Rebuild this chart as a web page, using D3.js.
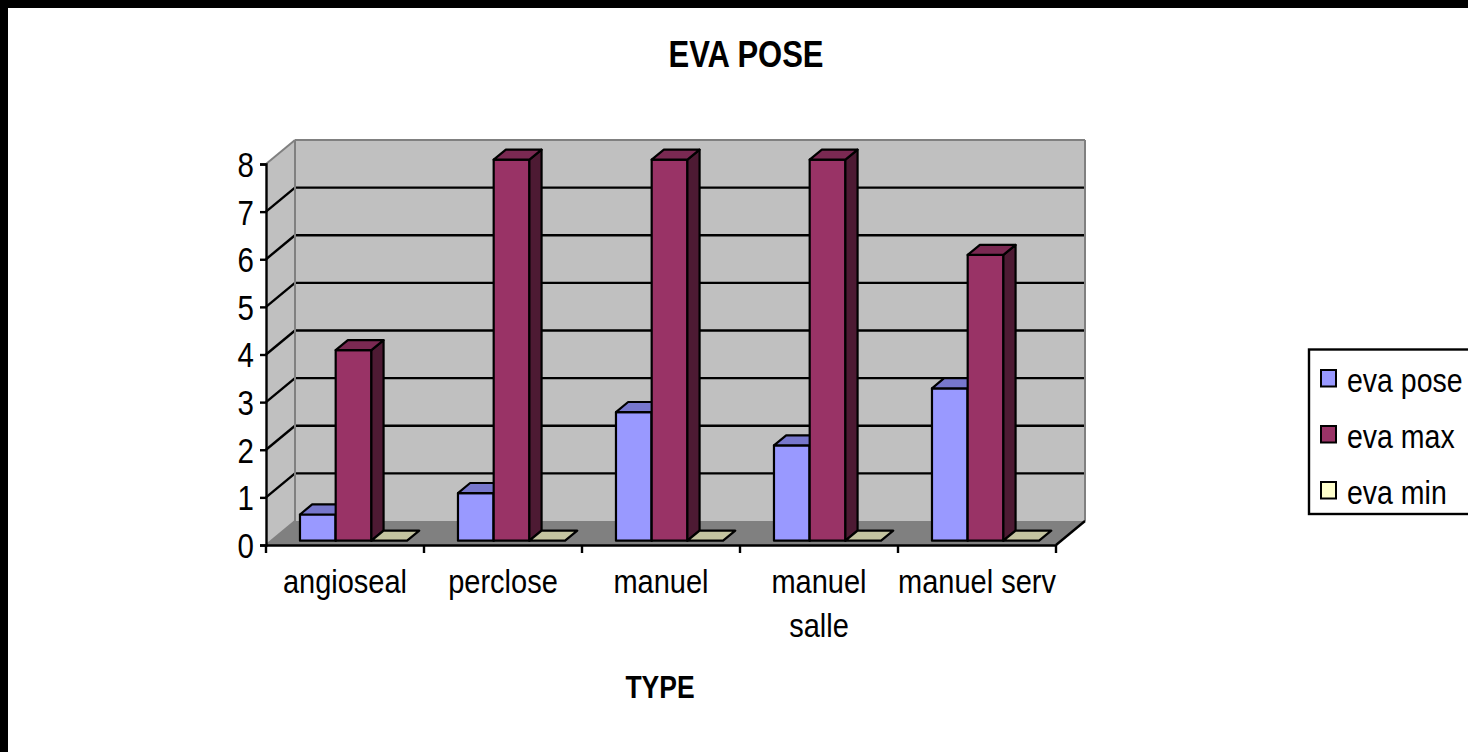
<!DOCTYPE html>
<html>
<head>
<meta charset="utf-8">
<script src="https://cdn.jsdelivr.net/npm/d3@7"></script>
<style>
  html, body { margin: 0; padding: 0; background: #fff; }
  svg { display: block; }
  text { font-family: "Liberation Sans", Arial, sans-serif; fill: #000; }
</style>
</head>
<body>
<svg id="chart" width="1468" height="752"></svg>
<script>
// ---- data ----
const categories = ["angioseal", "perclose", "manuel", "manuel salle", "manuel serv"];
const seriesNames = ["eva pose", "eva max", "eva min"];
const evaPose = [0.55, 1, 2.7, 2, 3.2];
const evaMax  = [4, 8, 8, 8, 6];
const evaMin  = [0, 0, 0, 0, 0];
const yTicks  = [0, 1, 2, 3, 4, 5, 6, 7, 8];
const chartTitle = "EVA POSE";
const xTitle = "TYPE";

const seriesValues = [evaPose, evaMax, evaMin];
const frontColors = ["#9999FF", "#993366", "#FFFFCC"];
const topColors   = ["#7777CC", "#7A2952", "#C4C4A0"];
const sideColors  = ["#5C5C99", "#4D1A33", "#99997A"];

const svg = d3.select("#chart");
const W = 1468, H = 752;
const SY = 1.17; // vertical stretch of the text in the reference

// frame (top & left black band)
svg.append("rect").attr("x", 0).attr("y", 0).attr("width", W).attr("height", 8).attr("fill", "#000");
svg.append("rect").attr("x", 0).attr("y", 0).attr("width", 8).attr("height", H).attr("fill", "#000");

// ---- scales / projection ----
const x = d3.scaleBand().domain(categories).range([266, 1056]).padding(0);
const bw = x.bandwidth();
const xs = d3.scaleBand().domain(seriesNames).range([bw * 0.182, bw * 0.86]).padding(0);
const y = d3.scaleLinear().domain([0, 8]).range([545, 164]);
const DX = 29, DY = 24;            // full depth offset
const P = (px, v, d) => [px + d * DX, y(v) - d * DY];
const poly = pts => pts.map(p => p.join(",")).join(" ");

const x0 = x.range()[0], x1 = x.range()[1];

// side wall
svg.append("polygon")
  .attr("points", poly([P(x0, 0, 0), P(x0, 8, 0), P(x0, 8, 1), P(x0, 0, 1)]))
  .attr("fill", "#C0C0C0");
// back wall
svg.append("polygon")
  .attr("points", poly([P(x0, 0, 1), P(x0, 8, 1), P(x1, 8, 1), P(x1, 0, 1)]))
  .attr("fill", "#C0C0C0");
// floor
svg.append("polygon")
  .attr("points", poly([P(x0, 0, 0), P(x1, 0, 0), P(x1, 0, 1), P(x0, 0, 1)]))
  .attr("fill", "#808080");

// gridlines on back wall and side wall
yTicks.filter(v => v > 0 && v < 8).forEach(v => {
  const a = P(x0, v, 1), b = P(x1, v, 1), c = P(x0, v, 0);
  svg.append("line").attr("x1", a[0]).attr("y1", a[1]).attr("x2", b[0]).attr("y2", b[1])
    .attr("stroke", "#000").attr("stroke-width", 2.4);
  svg.append("line").attr("x1", c[0]).attr("y1", c[1]).attr("x2", a[0]).attr("y2", a[1])
    .attr("stroke", "#000").attr("stroke-width", 2.4);
});
// wall borders (gray)
const grayEdges = [
  [P(x0, 8, 0), P(x0, 8, 1)],
  [P(x0, 8, 1), P(x1, 8, 1)],
  [P(x1, 8, 1), P(x1, 0, 1)],
  [P(x0, 8, 1), P(x0, 0, 1)],
  [P(x0, 0, 0), P(x0, 0, 1)]
];
grayEdges.forEach(([a, b]) => {
  svg.append("line").attr("x1", a[0]).attr("y1", a[1]).attr("x2", b[0]).attr("y2", b[1])
    .attr("stroke", "#808080").attr("stroke-width", 2);
});

// ---- bars ----
const d0 = 0.18, d1 = 0.6;
const barsG = svg.append("g");
categories.forEach((cat, ci) => {
  seriesNames.forEach((s, si) => {
    const v = seriesValues[si][ci];
    const bx0 = x(cat) + xs(s), bx1 = bx0 + xs.bandwidth();
    const g = barsG.append("g");
    if (v > 0) {
      g.append("polygon")
        .attr("points", poly([P(bx0, v, d0), P(bx1, v, d0), P(bx1, 0, d0), P(bx0, 0, d0)]))
        .attr("fill", frontColors[si]).attr("stroke", "#000").attr("stroke-width", 2.2)
        .attr("stroke-linejoin", "round");
      g.append("polygon")
        .attr("points", poly([P(bx1, v, d0), P(bx1, v, d1), P(bx1, 0, d1), P(bx1, 0, d0)]))
        .attr("fill", sideColors[si]).attr("stroke", "#000").attr("stroke-width", 2.2)
        .attr("stroke-linejoin", "round");
    }
    g.append("polygon")
      .attr("points", poly([P(bx0, v, d0), P(bx1, v, d0), P(bx1, v, d1), P(bx0, v, d1)]))
      .attr("fill", topColors[si]).attr("stroke", "#000").attr("stroke-width", 2.2)
      .attr("stroke-linejoin", "round");
  });
});

// ---- axes ----
// y axis
const yAxis = d3.axisLeft(y).tickValues(yTicks).tickSize(6).tickPadding(6).tickFormat(d3.format("d"));
const yG = svg.append("g").attr("transform", `translate(${x0},0)`).call(yAxis);
yG.select(".domain").attr("stroke", "#000").attr("stroke-width", 2.4);
yG.selectAll(".tick line").attr("stroke", "#000").attr("stroke-width", 2.4);
yG.selectAll(".tick text").style("font-size", "29.5px").attr("font-family", "Liberation Sans, Arial, sans-serif")
  .attr("x", -12).attr("dy", "0.36em").attr("transform", `scale(1,${SY})`);

// x axis
const xAxis = d3.axisBottom(x).tickSize(0).tickFormat("");
const xG = svg.append("g").attr("transform", `translate(0,${y(0)})`).call(xAxis);
xG.select(".domain").attr("stroke", "#000").attr("stroke-width", 2.4);
// category boundary ticks
categories.concat(["__end"]).forEach((c, i) => {
  const tx = i < categories.length ? x(c) : x1;
  svg.append("line").attr("x1", tx).attr("y1", y(0)).attr("x2", tx).attr("y2", y(0) + 8)
    .attr("stroke", "#000").attr("stroke-width", 2.4);
});
// floor right edge
{
  const a = P(x1, 0, 0), b = P(x1, 0, 1);
  svg.append("line").attr("x1", a[0]).attr("y1", a[1]).attr("x2", b[0]).attr("y2", b[1])
    .attr("stroke", "#000").attr("stroke-width", 2.4);
}

// category labels with wrapping
categories.forEach(cat => {
  const cx = x(cat) + bw / 2;
  const t = svg.append("text").attr("transform", `translate(${cx},593) scale(1,${SY})`)
    .attr("x", 0).attr("y", 0).attr("text-anchor", "middle")
    .style("font-size", "29px").text(cat);
  if (t.node().getComputedTextLength() > bw) {
    const words = cat.split(" ");
    t.text(null);
    words.forEach((w, i) => {
      t.append("tspan").attr("x", 0).attr("y", i * 44 / SY).text(w);
    });
  }
});

// titles
svg.append("text").attr("transform", "translate(746,66.7) scale(1,1.17)")
  .attr("text-anchor", "middle").style("font-size", "31px").style("font-weight", "bold")
  .text(chartTitle);
svg.append("text").attr("transform", "translate(660,698) scale(1,1.2)")
  .attr("text-anchor", "middle").style("font-size", "26.5px").style("font-weight", "bold")
  .text(xTitle);

// legend
const lg = svg.append("g");
lg.append("rect").attr("x", 1309).attr("y", 349.5).attr("width", 200).attr("height", 164.5)
  .attr("fill", "#fff").attr("stroke", "#000").attr("stroke-width", 2.4);
seriesNames.forEach((s, i) => {
  const yy = 370 + i * 56;
  lg.append("rect").attr("x", 1321).attr("y", yy).attr("width", 15).attr("height", 16.5)
    .attr("fill", frontColors[i]).attr("stroke", "#000").attr("stroke-width", 2);
  lg.append("text").attr("transform", `translate(1347,${yy + 21.5}) scale(1,${SY})`)
    .style("font-size", "28.5px").text(s);
});
</script>
</body>
</html>
